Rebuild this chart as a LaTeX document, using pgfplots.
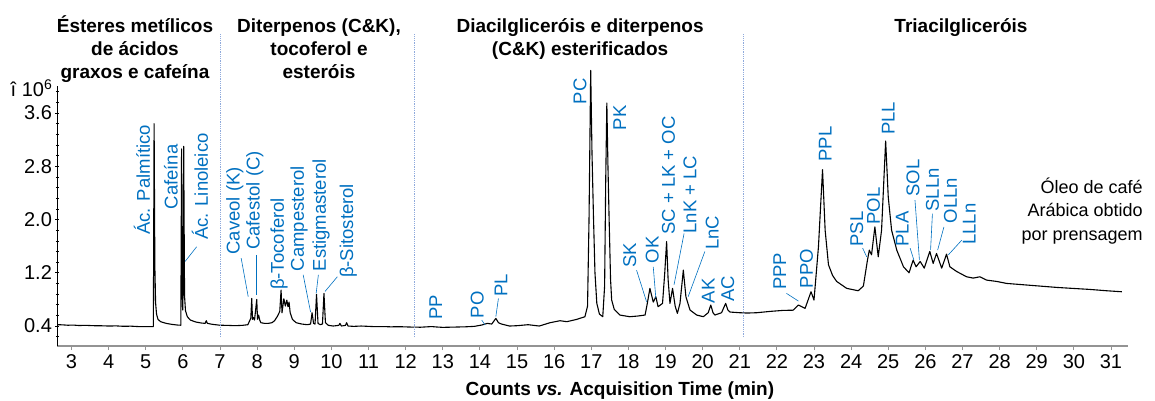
\documentclass[border=0pt]{standalone}
\usepackage{fontspec}
\setmainfont{Liberation Sans}
\usepackage{pgfplots}
\pgfplotsset{compat=1.18}
\usepackage{pgfplotstable}
\definecolor{lblblue}{RGB}{0,112,192}
\definecolor{divblue}{RGB}{143,170,220}

\pgfplotstableread{
t v
2.62 0.420
2.75 0.418
2.90 0.412
3.05 0.414
3.20 0.408
3.40 0.410
3.60 0.405
3.80 0.404
4.00 0.400
4.20 0.402
4.40 0.396
4.60 0.398
4.80 0.392
5.00 0.392
5.15 0.390
5.205 0.392
5.225 3.44
5.245 1.30
5.265 0.75
5.29 0.58
5.33 0.50
5.40 0.465
5.55 0.44
5.70 0.425
5.85 0.415
5.945 0.412
5.965 3.06
5.985 0.72
5.998 0.64
6.008 1.10
6.022 3.10
6.045 0.85
6.07 0.63
6.12 0.54
6.20 0.49
6.35 0.46
6.50 0.445
6.60 0.440
6.63 0.48
6.66 0.440
6.80 0.425
7.00 0.412
7.20 0.410
7.40 0.405
7.60 0.410
7.75 0.42
7.80 0.48
7.83 0.52
7.855 0.816
7.875 0.50
7.90 0.53
7.93 0.49
7.99 0.80
8.01 0.50
8.04 0.565
8.07 0.49
8.10 0.45
8.20 0.44
8.30 0.44
8.40 0.45
8.47 0.48
8.55 0.55
8.61 0.62
8.645 0.94
8.67 0.60
8.72 0.81
8.76 0.70
8.80 0.79
8.83 0.69
8.86 0.76
8.89 0.60
8.95 0.50
9.05 0.45
9.20 0.43
9.35 0.42
9.44 0.43
9.48 0.60
9.52 0.44
9.56 0.43
9.60 0.876
9.64 0.44
9.70 0.42
9.76 0.43
9.80 0.89
9.84 0.45
9.92 0.41
10.05 0.40
10.20 0.41
10.23 0.44
10.27 0.40
10.38 0.41
10.41 0.45
10.45 0.40
10.60 0.395
10.80 0.40
11.00 0.395
11.20 0.39
11.40 0.392
11.60 0.388
11.85 0.39
12.10 0.385
12.40 0.382
12.70 0.392
12.85 0.385
13.00 0.38
13.30 0.384
13.60 0.388
13.85 0.395
14.05 0.415
14.20 0.44
14.32 0.43
14.43 0.515
14.50 0.45
14.58 0.43
14.80 0.40
15.00 0.405
15.30 0.42
15.60 0.40
15.89 0.45
16.16 0.48
16.34 0.465
16.61 0.50
16.83 0.54
16.90 0.70
16.94 2.0
16.985 4.24
17.02 3.0
17.06 2.04
17.10 1.20
17.15 0.74
17.22 0.58
17.31 0.54
17.36 1.0
17.39 2.6
17.42 3.75
17.45 2.8
17.48 2.04
17.52 1.1
17.55 0.79
17.62 0.65
17.77 0.565
18.04 0.54
18.25 0.55
18.45 0.565
18.51 0.74
18.58 0.966
18.67 0.76
18.74 0.84
18.80 0.69
18.92 0.74
18.98 1.2
19.03 1.67
19.07 1.1
19.12 0.74
19.19 0.966
19.26 0.70
19.32 0.59
19.39 0.74
19.48 1.24
19.55 0.84
19.66 0.64
19.84 0.565
20.02 0.54
20.15 0.60
20.22 0.715
20.28 0.60
20.33 0.565
20.51 0.60
20.62 0.74
20.68 0.64
20.74 0.61
21.00 0.60
21.20 0.595
21.46 0.60
21.82 0.62
22.17 0.635
22.44 0.638
22.58 0.715
22.76 0.665
22.92 0.915
23.00 0.79
23.12 1.59
23.23 2.75
23.30 1.84
23.39 1.32
23.50 1.16
23.61 1.07
23.88 0.966
24.19 0.93
24.33 1.00
24.44 1.39
24.49 1.54
24.55 1.47
24.64 1.89
24.73 1.44
24.82 1.84
24.93 3.18
25.00 2.34
25.09 1.84
25.23 1.54
25.41 1.29
25.56 1.20
25.67 1.39
25.75 1.29
25.86 1.37
25.97 1.27
26.12 1.52
26.21 1.34
26.30 1.49
26.44 1.27
26.57 1.48
26.66 1.29
26.84 1.22
27.11 1.14
27.29 1.12
27.47 1.14
27.65 1.09
27.92 1.07
28.19 1.04
28.64 1.02
29.09 1.00
29.54 0.98
29.98 0.965
30.43 0.95
30.88 0.93
31.29 0.915
}\chrom

\begin{document}
\begin{tikzpicture}[
  lbl/.style={rotate=90, anchor=west, inner sep=0pt, text=lblblue, font=\fontsize{18.5bp}{22bp}\selectfont},
  ldr/.style={draw=lblblue, line width=0.6bp},
  ttl/.style={anchor=base, inner sep=0pt, font=\fontsize{19bp}{23bp}\selectfont\bfseries},
  note/.style={anchor=base east, inner sep=0pt, font=\fontsize{18bp}{22bp}\selectfont},
  divl/.style={draw=divblue, densely dotted, line width=0.8bp}
]
\begin{axis}[
  at={(57.4bp,55bp)}, anchor=south west,
  scale only axis, width=1070.3bp, height=259.6bp,
  xmin=2.62, xmax=31.45, ymin=0.1, ymax=4.0,
  clip=false,
  axis x line*=bottom, axis y line*=left,
  x axis line style={-, draw=gray!85, line width=2bp},
  y axis line style={-, draw=black, line width=0.7bp},
  xtick={3,4,...,31},
  ytick={0.4,1.2,2.0,2.8,3.6},
  yticklabels={0.4,1.2,2.0,2.8,3.6},
  minor ytick={0.24,0.56,0.72,0.88,1.04,1.36,1.52,1.68,1.84,2.16,2.32,2.48,2.64,2.96,3.12,3.28,3.44,3.76,3.92},
  xtick align=outside, ytick align=center,
  major tick length=4bp, minor tick length=3bp,
  x tick style={draw=gray!85, line width=0.8bp},
  y tick style={draw=black, line width=0.6bp},
  /pgf/number format/assume math mode=true,
  ticklabel style={font=\fontsize{20bp}{24bp}\selectfont},
  xticklabel style={yshift=-1bp},
]
\addplot[black, line width=1.1bp, line join=round] table[x=t,y=v]{\chrom};

% section dividers
\draw[divl] (axis cs:7,0.235) -- (axis cs:7,4.79);
\draw[divl] (axis cs:12.23,0.235) -- (axis cs:12.23,4.79);
\draw[divl] (axis cs:21.11,0.235) -- (axis cs:21.11,4.79);

% section titles
\node[ttl] at (axis cs:4.71,4.813) {Ésteres metílicos};
\node[ttl] at (axis cs:4.71,4.467) {de ácidos};
\node[ttl] at (axis cs:4.71,4.121) {graxos e cafeína};
\node[ttl] at (axis cs:9.667,4.813) {Diterpenos (C\&K),};
\node[ttl] at (axis cs:9.667,4.467) {tocoferol e};
\node[ttl] at (axis cs:9.667,4.121) {esteróis};
\node[ttl] at (axis cs:16.70,4.813) {Diacilgliceróis e diterpenos};
\node[ttl] at (axis cs:16.70,4.467) {(C\&K) esterificados};
\node[ttl] at (axis cs:26.96,4.813) {Triacilgliceróis};

% sample note
\node[note] at (axis cs:31.86,2.398) {Óleo de café};
\node[note] at (axis cs:31.86,2.038) {Arábica obtido};
\node[note] at (axis cs:31.86,1.692) {por prensagem};

% y scale label and x axis title
\node[anchor=base east, inner sep=0pt, font=\fontsize{20bp}{24bp}\selectfont] at (axis cs:2.488,3.845) {î 10\textsuperscript{6}};
\node[anchor=base, inner sep=0pt, font=\fontsize{19bp}{23bp}\selectfont\bfseries] at (axis cs:17.77,-0.637) {Counts \textit{vs.} Acquisition Time (min)};

% peak labels
\node[lbl] at (axis cs:4.90,1.77) {Ác. Palmítico};
\node[lbl] at (axis cs:5.68,2.15) {Cafeína};
\node[lbl] at (axis cs:6.46,1.69) {Ác. Linoleico};
\draw[ldr] (axis cs:6.37,1.59) -- (axis cs:6.06,1.37);
\node[lbl] at (axis cs:7.40,1.47) {Caveol (K)};
\draw[ldr] (axis cs:7.57,1.42) -- (axis cs:7.76,0.84);
\node[lbl] at (axis cs:7.94,1.54) {Cafestol (C)};
\draw[ldr] (axis cs:7.99,1.47) -- (axis cs:7.99,0.87);
\node[lbl] at (axis cs:8.59,0.94) {β-Tocoferol};
\node[lbl] at (axis cs:9.13,1.22) {Campesterol};
\draw[ldr] (axis cs:9.24,1.17) -- (axis cs:9.44,0.61);
\node[lbl] at (axis cs:9.72,1.22) {Estigmasterol};
\draw[ldr] (axis cs:9.65,1.17) -- (axis cs:9.59,0.89);
\node[lbl] at (axis cs:10.46,1.12) {β-Sitosterol};
\draw[ldr] (axis cs:10.16,1.14) -- (axis cs:9.83,0.92);
\node[lbl] at (axis cs:12.81,0.49) {PP};
\node[lbl] at (axis cs:13.93,0.515) {PO};
\draw[ldr] (axis cs:14.05,0.49) -- (axis cs:14.14,0.415);
\node[lbl] at (axis cs:14.57,0.84) {PL};
\draw[ldr] (axis cs:14.50,0.816) -- (axis cs:14.43,0.54);
\node[lbl] at (axis cs:16.70,3.73) {PC};
\node[lbl] at (axis cs:17.77,3.34) {PK};
\node[lbl] at (axis cs:18.04,1.27) {SK};
\draw[ldr] (axis cs:18.22,1.24) -- (axis cs:18.49,0.765);
\node[lbl] at (axis cs:18.64,1.34) {OK};
\draw[ldr] (axis cs:18.67,1.29) -- (axis cs:18.74,0.816);
\node[lbl] at (axis cs:19.08,1.77) {SC + LK + OC};
\node[lbl] at (axis cs:19.66,1.79) {LnK + LC};
\draw[ldr] (axis cs:19.50,1.79) -- (axis cs:19.23,1.02);
\node[lbl] at (axis cs:20.26,1.54) {LnC};
\draw[ldr] (axis cs:20.06,1.52) -- (axis cs:19.61,0.84);
\node[lbl] at (axis cs:20.15,0.74) {AK};
\node[lbl] at (axis cs:20.68,0.765) {AC};
\node[lbl] at (axis cs:22.08,0.94) {PPP};
\draw[ldr] (axis cs:22.26,0.89) -- (axis cs:22.58,0.775);
\node[lbl] at (axis cs:22.80,0.966) {PPO};
\node[lbl] at (axis cs:23.30,2.87) {PPL};
\node[lbl] at (axis cs:24.15,1.59) {PSL};
\draw[ldr] (axis cs:24.31,1.57) -- (axis cs:24.42,1.44);
\node[lbl] at (axis cs:24.60,1.92) {POL};
\node[lbl] at (axis cs:25.00,3.27) {PLL};
\node[lbl] at (axis cs:25.38,1.59) {PLA};
\draw[ldr] (axis cs:25.59,1.57) -- (axis cs:25.69,1.39);
\node[lbl] at (axis cs:25.67,2.34) {SOL};
\draw[ldr] (axis cs:25.72,2.29) -- (axis cs:25.84,1.39);
\node[lbl] at (axis cs:26.19,2.12) {SLLn};
\draw[ldr] (axis cs:26.19,2.09) -- (axis cs:26.14,1.54);
\node[lbl] at (axis cs:26.68,1.94) {OLLn};
\draw[ldr] (axis cs:26.50,1.89) -- (axis cs:26.33,1.54);
\node[lbl] at (axis cs:27.18,1.62) {LLLn};
\draw[ldr] (axis cs:26.98,1.69) -- (axis cs:26.62,1.47);
\end{axis}
\pgfresetboundingbox
\useasboundingbox (0,0) rectangle (1155bp,401bp);
\end{tikzpicture}
\end{document}
